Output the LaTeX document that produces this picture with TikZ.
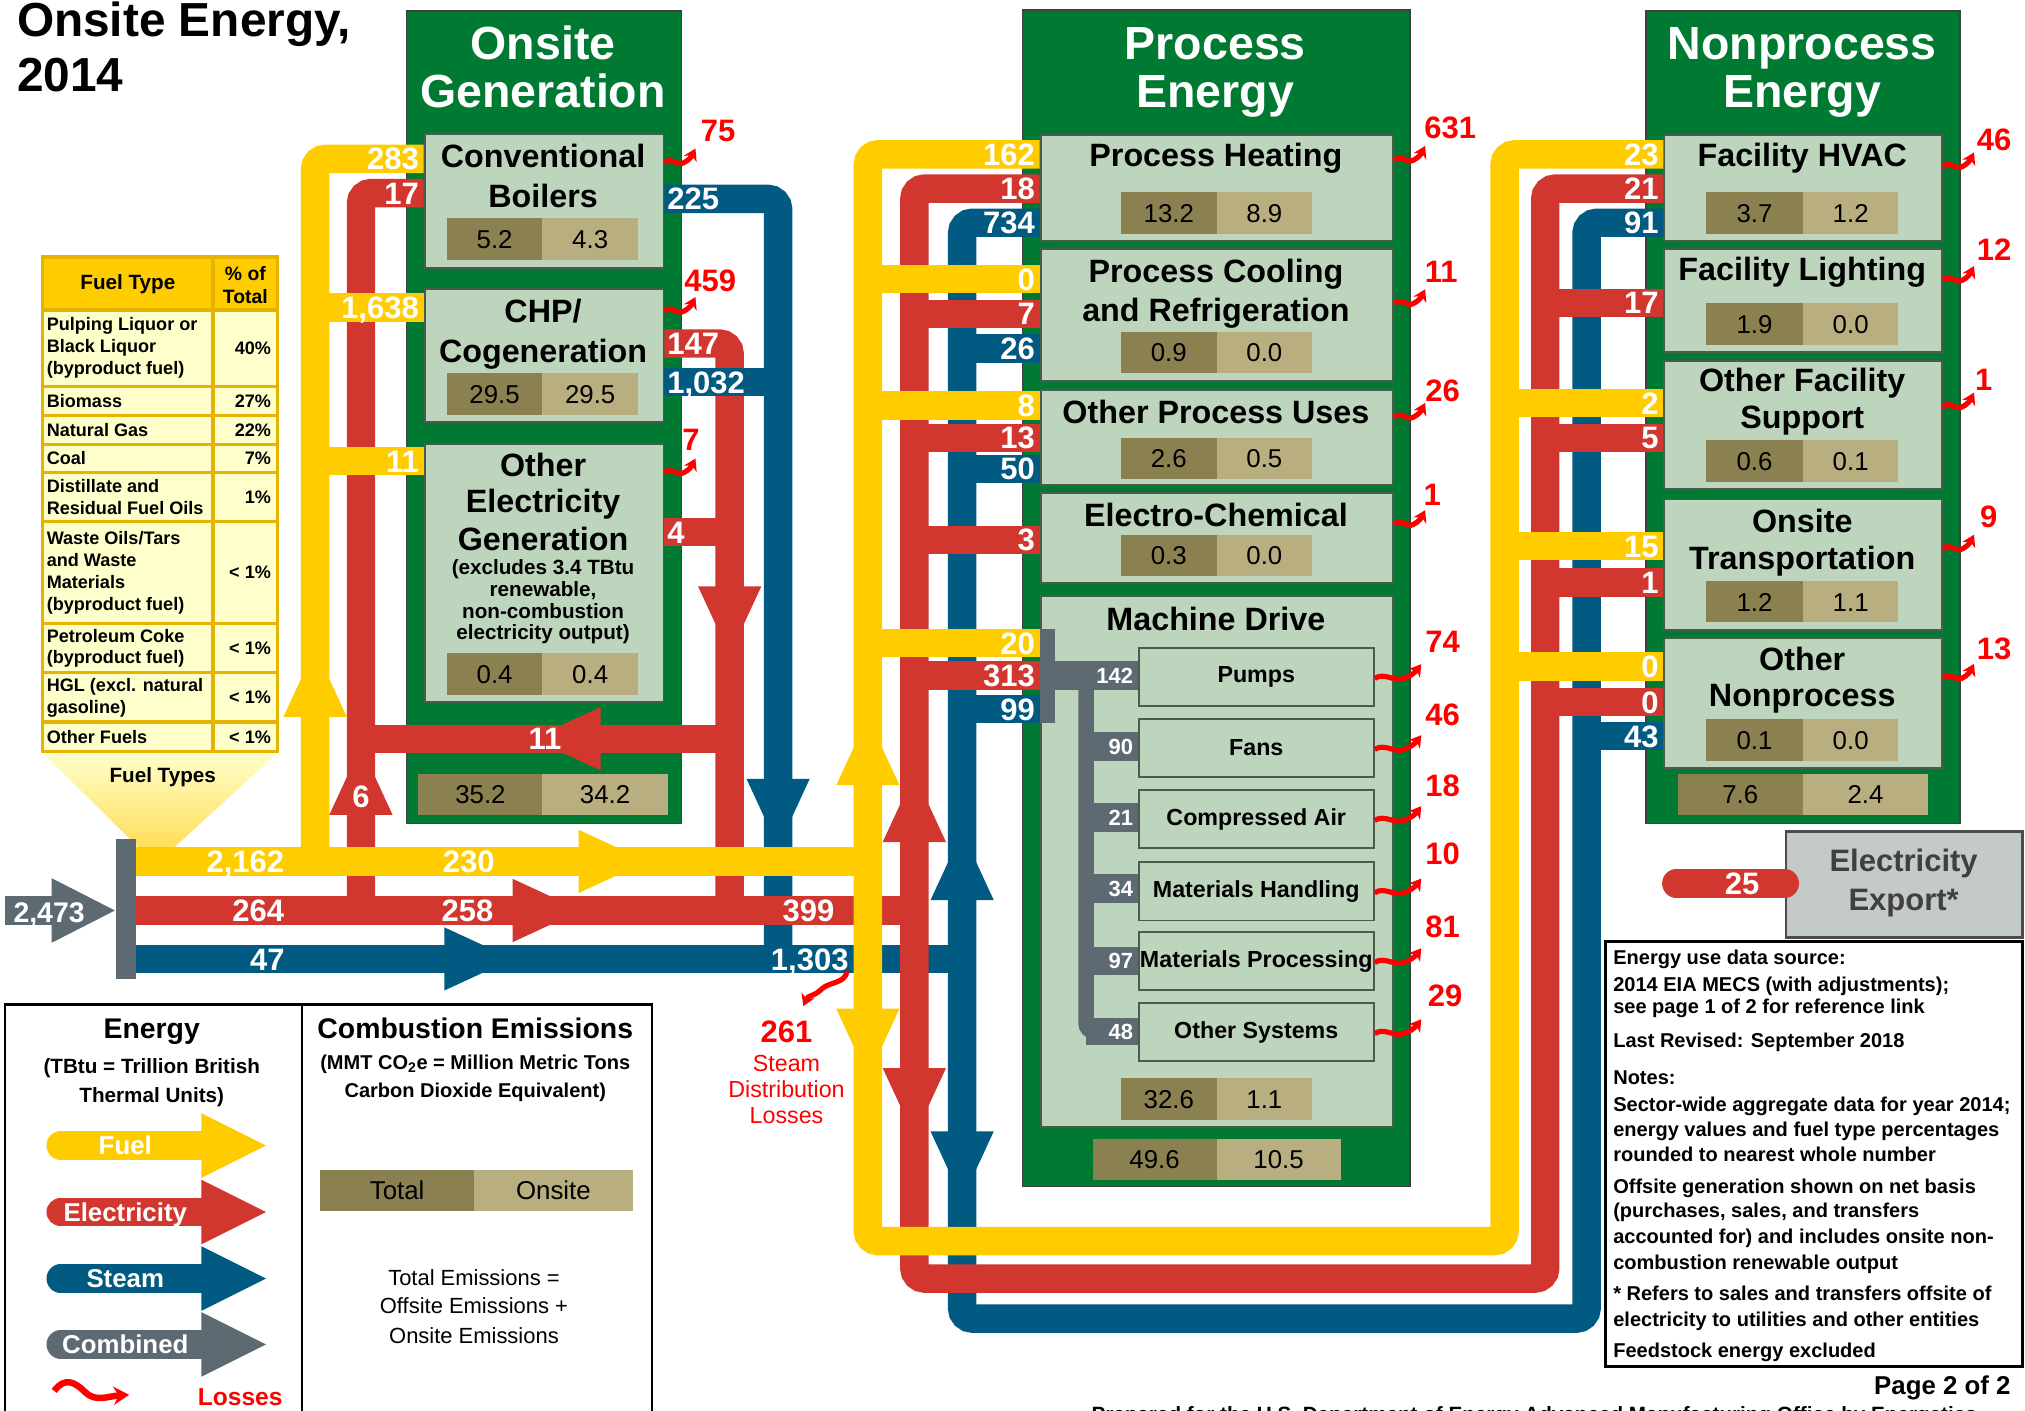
\documentclass[tikz,border=0pt]{standalone}
\usepackage{fontspec}
\setmainfont{Liberation Sans}
\usetikzlibrary{arrows.meta}

\definecolor{pgreen}{HTML}{007A33}
\definecolor{boxgreen}{HTML}{BDD5BD}
\definecolor{boxedge}{HTML}{4D5A4D}
\definecolor{emtot}{HTML}{8B8150}
\definecolor{emons}{HTML}{B8AE80}
\definecolor{fuelc}{HTML}{FFCC00}
\definecolor{elecc}{HTML}{D1372F}
\definecolor{steamc}{HTML}{005A82}
\definecolor{combc}{HTML}{5E6A72}
\definecolor{lossc}{HTML}{FF0000}
\definecolor{tblbody}{HTML}{FFFFCC}
\definecolor{tbledge}{HTML}{E6B400}
\definecolor{exportc}{HTML}{C4C9C9}

\tikzset{
  pics/wiggle/.style={code={
    \draw[lossline] (0,0) .. controls (5,-5) and (10,3) .. (15,0) .. controls (19,-2) and (21,-5) .. (24,-11);}}
}

\begin{document}
\begin{tikzpicture}[x=1pt, y=-1pt,
  panel/.style={fill=pgreen, draw=black!75, line width=1.2, anchor=north west, inner sep=0},
  enduse/.style={fill=boxgreen, draw=boxedge, line width=1.5, anchor=north west, inner sep=0},
  fuel/.style={draw=fuelc, line width=22},
  elec/.style={draw=elecc, line width=22},
  steam/.style={draw=steamc, line width=22},
  flowlbl/.style={text=white, font=\fontsize{24}{24}\selectfont\bfseries, inner sep=1.5, text height=17.2, text depth=0},
  graylbl/.style={text=white, font=\fontsize{17}{17}\selectfont\bfseries, inner sep=1.5, text height=12.2, text depth=0},
  losslbl/.style={text=lossc, font=\fontsize{24}{24}\selectfont\bfseries, inner sep=0, text height=17.2, text depth=0},
  lossline/.style={draw=lossc, line width=4, -{Stealth[length=9pt, width=11pt]}},
  boxttl/.style={font=\fontsize{25}{25}\selectfont\bfseries, anchor=base, inner sep=0},
  smallttl/.style={font=\fontsize{16}{16}\selectfont\bfseries, anchor=base, inner sep=0},
  panelttl/.style={text=white, font=\fontsize{36}{36}\selectfont\bfseries, anchor=base, inner sep=0},
  emnum/.style={font=\fontsize{20}{20}\selectfont, inner sep=0, text height=14.3, text depth=0},
  tbltxt/.style={font=\fontsize{14}{17}\selectfont\bfseries, inner sep=0},
  note/.style={font=\fontsize{15.5}{19}\selectfont\bfseries, anchor=base west, inner sep=0}
]
\useasboundingbox (0,0) rectangle (1568,1092);

% title
\node[anchor=base west, font=\fontsize{37}{37}\selectfont\bfseries, inner sep=0] (ttla) at (13,28) {Onsite Energy,};
\node[anchor=base west, font=\fontsize{37}{37}\selectfont\bfseries, inner sep=0] (ttlb) at (13,71) {2014};

% the three green panels
\node[panel, minimum width=213, minimum height=629] (onsite) at (314,8) {};
\node[panel, minimum width=300, minimum height=911] (proc) at (791,7) {};
\node[panel, minimum width=243, minimum height=629] (nonproc) at (1274,8) {};
\foreach \x/\y/\t in {420.5/46/Onsite, 420.5/83/Generation, 941/46/Process, 941/83/Energy,
                     1395.5/46/Nonprocess, 1395.5/83/Energy}
  \node[panelttl] at (\x,\y) {\t};

% end-use boxes
\foreach \n/\x/\y/\w/\h in {cb/328/103/185/104, chp/328/223/185/103, oeg/328/343/185/200,
    ph/805/104/273/82, pc/805/192/273/102, opu/805/301/273/74, ec/805/381/273/70, md/805/461/273/411,
    hvac/1288/104/215/82, light/1288/192/215/80, ofs/1288/279/215/99, otr/1288/386/215/101, onp/1288/493/215/101}
  \node[enduse, minimum width=\w, minimum height=\h] (\n) at (\x,\y) {};

% machine drive branches
\fill[combc] (805,487) rectangle (817,560);
\fill[combc] (817,512) rectangle (881,534);
\draw[combc, line width=12, rounded corners=6] (841,530) -- (841,798.5) -- (881,798.5);
\fill[combc] (841,788) rectangle (881,809);
\foreach \y in {567,622,677,733}
  \fill[combc] (847,\y) rectangle (881,\y+22);
\foreach \n/\y/\t in {pumps/501/Pumps, fans/556/Fans, comp/611/Compressed Air, mh/667/Materials Handling,
                     mp/721/Materials Processing, os/776/Other Systems}
  \node[enduse, minimum width=182, minimum height=45, font=\fontsize{18}{18}\selectfont\bfseries] (\n) at (881,\y) {\t};
\foreach \y/\t in {523/142, 578/90, 633/21, 688/34, 744/97, 798.5/48}
  \node[graylbl, anchor=east] at (879,\y) {\t};

% box titles
\foreach \x/\y/\t in {420.5/130/Conventional, 420.5/161/Boilers, 420.5/250/{CHP/}, 420.5/281/Cogeneration,
    420.5/369/Other, 420.5/397/Electricity, 420.5/426/Generation,
    941.5/129/Process Heating, 941.5/219/Process Cooling, 941.5/249/and Refrigeration,
    941.5/328/Other Process Uses, 941.5/408/Electro-Chemical, 941.5/488/Machine Drive,
    1395.5/129/Facility HVAC, 1395.5/217/Facility Lighting, 1395.5/303/Other Facility, 1395.5/332/Support,
    1395.5/412/Onsite, 1395.5/441/Transportation, 1395.5/519/Other, 1395.5/547/Nonprocess}
  \node[boxttl] at (\x,\y) {\t};
\foreach \y/\t in {445/(excludes 3.4 TBtu, 462/{renewable,}, 479/non-combustion, 495/electricity output)}
  \node[smallttl] at (420.5,\y) {\t};

% emission bars: total / onsite
\foreach \xa/\xs/\xb/\y/\t/\o in {346/420/494/169/5.2/4.3, 346/420/494/289/29.5/29.5, 346/420/494/506/0.4/0.4,
    324/420/517/599/35.2/34.2,
    868/942/1016/149/13.2/8.9, 868/942/1016/257/0.9/0.0, 868/942/1016/339/2.6/0.5, 868/942/1016/414/0.3/0.0,
    868/942/1016/835/32.6/1.1, 846/942/1038/882/49.6/10.5,
    1321/1396/1470/149/3.7/1.2, 1321/1396/1470/235/1.9/0.0, 1321/1396/1470/341/0.6/0.1,
    1321/1396/1470/450/1.2/1.1, 1321/1396/1470/557/0.1/0.0, 1299/1396/1493/599/7.6/2.4,
    248/367/490/906/Total/Onsite}{
  \fill[emtot] (\xa,\y) rectangle (\xs,\y+32);
  \fill[emons] (\xs,\y) rectangle (\xb,\y+32);
  \node[emnum] at ({(\xa+\xs)/2},\y+16) {\t};
  \node[emnum] at ({(\xs+\xb)/2},\y+16) {\o};
}

% fuel type table and funnel
\shade[top color=tblbody, bottom color=fuelc!65] (33,583) -- (215,583) -- (135,656) -- (107,656) -- cycle;
\node[font=\fontsize{16}{16}\selectfont\bfseries, anchor=base, inner sep=0] (ftypes) at (126,606) {Fuel Types};
\fill[fuelc] (33,199) rectangle (215,240);
\fill[tblbody] (33,240) rectangle (215,582);
\foreach \y in {240,299,322,344,366,404,483,521,559}
  \draw[tbledge, line width=2.5] (33,\y) -- (215,\y);
\draw[tbledge, line width=2.5] (33,199) rectangle (215,582) (165,199) -- (165,582);
\node[font=\fontsize{16}{16}\selectfont\bfseries, inner sep=0] (fthead) at (99,220) {Fuel Type};
\node[font=\fontsize{15}{18}\selectfont\bfseries, inner sep=0, align=center] (pthead) at (190,221) {\% of\\Total};
\foreach \ya/\yb/\f/\p in {240/299/{Pulping Liquor or\\Black Liquor\\(byproduct fuel)}/40\%, 299/322/Biomass/27\%,
    322/344/Natural Gas/22\%, 344/366/Coal/7\%, 366/404/{Distillate and\\Residual Fuel Oils}/1\%,
    404/483/{Waste Oils/Tars\\and Waste\\Materials\\(byproduct fuel)}/< 1\%,
    483/521/{Petroleum Coke\\(byproduct fuel)}/< 1\%, 521/559/{HGL (excl. natural\\gasoline)}/< 1\%,
    559/582/Other Fuels/< 1\%}{
  \node[tbltxt, anchor=west, align=left] at (36,{(\ya+\yb)/2}) {\f};
  \node[tbltxt, anchor=east] at (210,{(\ya+\yb)/2}) {\p};
}

% combined input
\fill[combc] (4,694) rectangle (41,716);
\fill[combc] (40,680) -- (89,705) -- (40,730) -- cycle;
\fill[combc] (90,650) rectangle (105,758);
\node[flowlbl, font=\fontsize{22}{22}\selectfont\bfseries] (total) at (38,706) {2,473};

% onsite generation flows
\draw[elec, rounded corners=8] (279.5,705) -- (279.5,149.5) -- (cb.west |- 0,149.5);
\draw[elec, rounded corners=8] (chp.east |- 0,266) -- (565,266) -- (565,705);
\draw[elec] (oeg.east |- 0,412) -- (565,412);
\draw[elec] (565,572) -- (279.5,572);
\draw[steam, rounded corners=8] (cb.east |- 0,154) -- (602.5,154) -- (602.5,742.5);
\draw[steam] (chp.east |- 0,296) -- (602.5,296);
\draw[steam] (105,742.5) -- (745,742.5);
\draw[elec] (105,705) -- (708,705);
\draw[fuel] (105,667) -- (672,667);
\draw[fuel, rounded corners=8] (244,667) -- (244,123) -- (cb.west |- 0,123);
\draw[fuel] (244,238) -- (chp.west |- 0,238);
\draw[fuel] (244,357) -- (oeg.west |- 0,357);

% process and nonprocess loops
\draw[steam, rounded corners=8] (ph.west |- 0,172.5) -- (745,172.5) -- (745,1021) -- (1228.5,1021)
  -- (1228.5,172.5) -- (hvac.west |- 0,172.5);
\draw[elec, rounded corners=8] (ph.west |- 0,146) -- (708,146) -- (708,990) -- (1196.5,990)
  -- (1196.5,146) -- (hvac.west |- 0,146);
\draw[fuel, rounded corners=8] (ph.west |- 0,119.5) -- (672,119.5) -- (672,961) -- (1165,961)
  -- (1165,119.5) -- (hvac.west |- 0,119.5);
\foreach \y in {270,363,549}
  \draw[steam] (745,\y) -- (ph.west |- 0,\y);
\draw[steam] (1228.5,570) -- (hvac.west |- 0,570);
\foreach \y in {243,339,418,523}
  \draw[elec] (708,\y) -- (ph.west |- 0,\y);
\foreach \y in {234.5,339,451,543.5}
  \draw[elec] (1196.5,\y) -- (hvac.west |- 0,\y);
\foreach \y in {216,314,498}
  \draw[fuel] (672,\y) -- (ph.west |- 0,\y);
\foreach \y in {312,423,516}
  \draw[fuel] (1165,\y) -- (hvac.west |- 0,\y);

% arrowheads
\foreach \x/\y/\r/\c in {244/555/90/fuelc, 279.5/631/90/elecc, 465/572/180/elecc, 565/454/-90/elecc,
    602.5/603/-90/steamc, 448/667/0/fuelc, 397/705/0/elecc, 344/742.5/0/steamc,
    672/608/90/fuelc, 708/652/90/elecc, 745/697/90/steamc,
    672/781/-90/fuelc, 708/827/-90/elecc, 745/876/-90/steamc}
  \fill[\c, shift={(\x,\y)}, rotate=\r] (0,-24.5) -- (53,0) -- (0,24.5) -- cycle;

% flow values
\foreach \x/\y/\t/\a in {326/123/283/east, 326/149.5/17/east, 326/238/{1,638}/east, 326/357/11/east,
    515/154/225/west, 515/266/147/west, 515/296/{1,032}/west, 515/412/4/west,
    190/667/{2,162}/center, 363/667/230/center, 200/705/264/center, 362/705/258/center,
    207/742.5/47/center, 626/705/399/center, 627/742.5/{1,303}/center,
    422/572/11/center, 279.5/617/6/center}
  \node[flowlbl, anchor=\a] at (\x,\y) {\t};
\foreach \y/\t in {119.5/162, 146/18, 172.5/734, 216/0, 243/7, 270/26, 314/8, 339/13, 363/50,
    418/3, 498/20, 523/313, 549/99}
  \node[flowlbl, anchor=east] at (803,\y) {\t};
\foreach \y/\t in {119.5/23, 146/21, 172.5/91, 234.5/17, 312/2, 339/5, 423/15, 451/1, 516/0, 543.5/0, 570/43}
  \node[flowlbl, anchor=east] at (1286,\y) {\t};

% electricity export
\node[draw=black!70, fill=exportc, line width=2, minimum width=183, minimum height=82, anchor=north west,
  inner sep=0] (export) at (1382,643) {};
\draw[elec, line cap=round] (1298,684) -- (export.west |- 0,684);
\node[flowlbl] at (1349,684) {25};
\node[boxttl, text=black!75, font=\fontsize{24}{24}\selectfont\bfseries] at (1474,675) {Electricity};
\node[boxttl, text=black!75, font=\fontsize{24}{24}\selectfont\bfseries] at (1474,705) {Export*};

% losses
\foreach \n/\y in {cb/126, chp/241, oeg/366}
  \pic at (\n.east |- 0,\y) {wiggle};
\foreach \n/\y in {ph/124, pc/235, opu/323, ec/406}
  \pic at (\n.east |- 0,\y) {wiggle};
\foreach \n/\y in {hvac/129, light/217, ofs/315, otr/425, onp/525}
  \pic at (\n.east |- 0,\y) {wiggle};
\foreach \n in {pumps, fans, comp, mh, mp, os}
  \pic[xscale=1.5] at ([yshift=-1]\n.east) {wiggle};
\foreach \x/\y/\t in {556/101/75, 550/217/459, 535/340/7,
    1123/99/631, 1116/210/11, 1117/302/26, 1109/383/1,
    1117/497/74, 1117/553/46, 1117/608/18, 1117/661/10, 1117/717/81, 1119/771/29,
    1544/108/46, 1544/193/12, 1536/294/1, 1540/400/9, 1544/502/13}
  \node[losslbl] at (\x,\y) {\t};
\draw[lossline] (656,752) .. controls (654,762) and (642,760) .. (636,766) .. controls (630,772) and (626,770) .. (622,779);
\node[losslbl] (sdl) at (609,799) {261};
\foreach \y/\t in {830/Steam, 850/Distribution, 870/Losses}
  \node[anchor=base, text=lossc, font=\fontsize{18}{18}\selectfont, inner sep=0] at (609,\y) {\t};

% legend
\draw[black, line width=2] (4,778) rectangle (505,1110) (234,778) -- (234,1110);
\node[anchor=base, font=\fontsize{22}{22}\selectfont\bfseries, inner sep=0] (legE) at (117.5,804) {Energy};
\node[anchor=base, font=\fontsize{16}{16}\selectfont\bfseries, inner sep=0] at (117.5,831) {(TBtu = Trillion British};
\node[anchor=base, font=\fontsize{16}{16}\selectfont\bfseries, inner sep=0] at (117.5,854) {Thermal Units)};
\node[anchor=base, font=\fontsize{22}{22}\selectfont\bfseries, inner sep=0] (legC) at (368,804) {Combustion Emissions};
\node[anchor=base, font=\fontsize{15.5}{15.5}\selectfont\bfseries, inner sep=0] at (368,828) {(MMT CO\textsubscript{2}e = Million Metric Tons};
\node[anchor=base, font=\fontsize{15.5}{15.5}\selectfont\bfseries, inner sep=0] at (368,850) {Carbon Dioxide Equivalent)};
\foreach \y/\t in {995/Total Emissions =, 1017/Offsite Emissions +, 1040/Onsite Emissions}
  \node[anchor=base, font=\fontsize{17}{17}\selectfont, inner sep=0] at (367,\y) {\t};
\foreach \y/\c/\t in {887/fuelc/Fuel, 938.5/elecc/Electricity, 990/steamc/Steam, 1041/combc/Combined}{
  \draw[draw=\c, line width=22, line cap=round] (47,\y) -- (157,\y);
  \fill[\c] (156,\y-25) -- (206,\y) -- (156,\y+25) -- cycle;
  \node[anchor=base, text=white, font=\fontsize{20}{20}\selectfont\bfseries, inner sep=0] at (97,\y+7) {\t};
}
\draw[lossline, line width=5, -{Stealth[length=12pt, width=14pt]}] (42,1077) .. controls (50,1066) and (58,1070) .. (66,1078)
  .. controls (74,1086) and (84,1081) .. (100,1080);
\node[anchor=base, text=lossc, font=\fontsize{19}{19}\selectfont\bfseries, inner sep=0] at (186,1088) {Losses};

% notes
\draw[black, line width=2] (1243,729) rectangle (1566,1058);
\foreach \y/\t in {747/Energy use data source:, 768/{2014 EIA MECS (with adjustments);},
    785/see page 1 of 2 for reference link, 811/Last Revised: September 2018, 840/Notes:,
    861/{Sector-wide aggregate data for year 2014;}, 880/energy values and fuel type percentages,
    899/rounded to nearest whole number, 924/Offsite generation shown on net basis,
    943/{(purchases, sales, and transfers}, 963/accounted for) and includes onsite non-,
    983/combustion renewable output, 1007/* Refers to sales and transfers offsite of,
    1027/electricity to utilities and other entities, 1051/Feedstock energy excluded}
  \node[note] at (1249,\y) {\t};
\node[anchor=base east, font=\fontsize{20}{20}\selectfont\bfseries, inner sep=0] (page) at (1557,1080) {Page 2 of 2};
\node[anchor=base west, font=\fontsize{16}{16}\selectfont\bfseries, inner sep=0] (prep) at (845,1101)
  {Prepared for the U.S. Department of Energy Advanced Manufacturing Office by Energetics};
\end{tikzpicture}
\end{document}
